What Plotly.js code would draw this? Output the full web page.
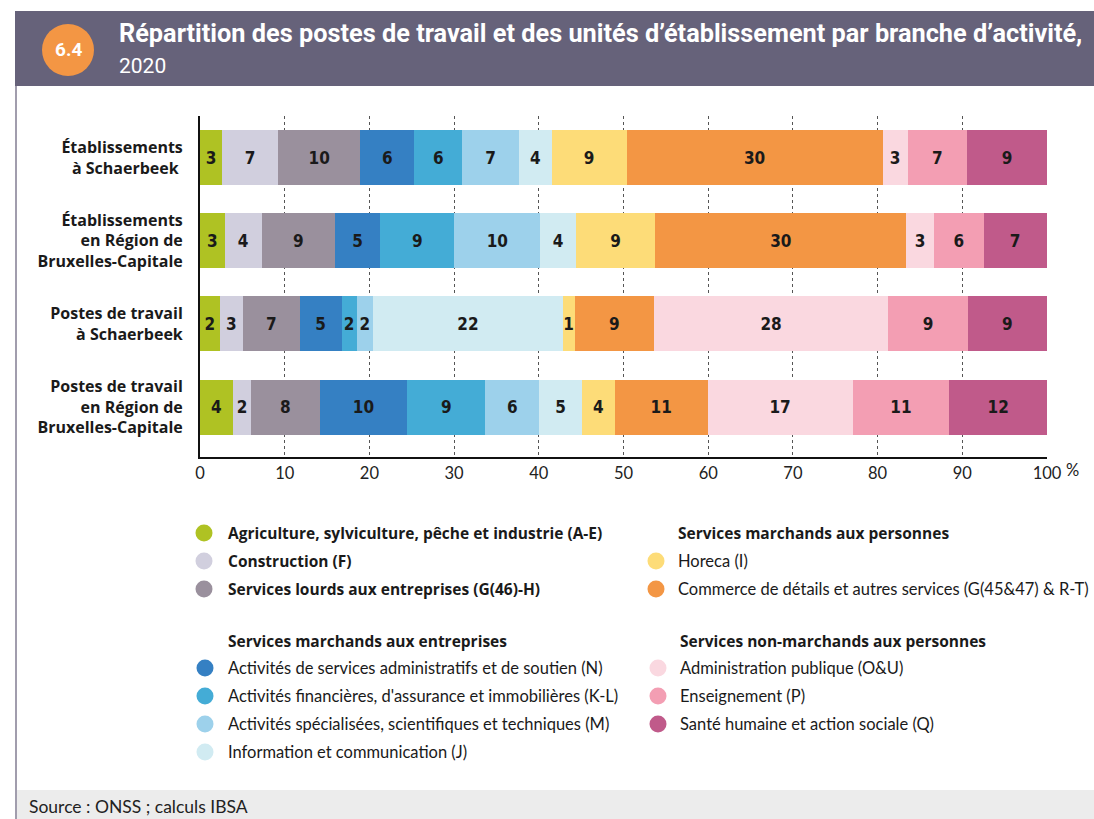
<!DOCTYPE html>
<html>
<head>
<meta charset="utf-8">
<script src="https://cdn.plot.ly/plotly-3.0.1.min.js"></script>
<style>html,body{margin:0;padding:0;background:#fff;}#chart{width:1094px;height:819px;}</style>
</head>
<body>
<div id="chart"></div>
<script>
// ---------- DATA ----------
const categories = [
  "Établissements<br>à Schaerbeek ",
  "Établissements<br>en Région de<br>Bruxelles-Capitale",
  "Postes de travail<br>à Schaerbeek",
  "Postes de travail<br>en Région de<br>Bruxelles-Capitale"
];
const agriculture  = [2.6, 2.9, 2.35, 3.88];
const construction = [6.6, 4.4, 2.72, 2.15];
const servLourds   = [9.74, 8.6, 6.69, 8.09];
const adminSoutien = [6.36, 5.4, 4.95, 10.36];
const financieres  = [5.65, 8.7, 1.77, 9.2];
const specialisees = [6.73, 10.2, 1.98, 6.36];
const information  = [3.82, 4.14, 22.36, 5.05];
const horeca       = [8.88, 9.43, 1.42, 3.88];
const commerce     = [30.2, 29.6, 9.33, 10.96];
const adminPub     = [2.96, 3.3, 27.7, 17.12];
const enseignement = [7.04, 5.85, 9.4, 11.42];
const sante        = [9.4, 7.45, 9.3, 11.52];

const seriesNames = [
  "Agriculture, sylviculture, pêche et industrie (A-E)",
  "Construction (F)",
  "Services lourds aux entreprises (G(46)-H)",
  "Activités de services administratifs et de soutien (N)",
  "Activités financières, d'assurance et immobilières (K-L)",
  "Activités spécialisées, scientifiques et techniques (M)",
  "Information et communication (J)",
  "Horeca (I)",
  "Commerce de détails et autres services (G(45&47) & R-T)",
  "Administration publique (O&U)",
  "Enseignement (P)",
  "Santé humaine et action sociale (Q)"
];
const seriesValues = [agriculture, construction, servLourds, adminSoutien, financieres,
  specialisees, information, horeca, commerce, adminPub, enseignement, sante];
const seriesColors = ["#afc223", "#d1cfde", "#9a909d", "#3580c3", "#44acd6", "#9dd1eb",
  "#d1ebf2", "#fddc78", "#f39644", "#fad8e0", "#f39eb3", "#c05a8a"];
const groupTitles = ["Services marchands aux entreprises", "Services marchands aux personnes",
  "Services non-marchands aux personnes"];
const xTickVals = [0, 10, 20, 30, 40, 50, 60, 70, 80, 90, 100];
const xTickText = ["0", "10", "20", "30", "40", "50", "60", "70", "80", "90", "100"];

// ---------- GEOMETRY HELPERS ----------
const W = 1094, H = 819;
const M = {l: 200, r: 47, t: 116, b: 362};
const PW = W - M.l - M.r, PH = H - M.t - M.b;
const px = x => (x - M.l) / PW;
const py = y => 1 - (y - M.t) / PH;

const labelFont = "'Liberation Sans Narrow', 'DejaVu Sans Condensed', 'Roboto Condensed', Roboto, sans-serif";
const textFont = "Lato, 'Noto Sans', sans-serif";
const boldFont = "'Open Sans', 'Noto Sans', sans-serif";

const traces = seriesValues.map((vals, i) => ({
  type: "bar",
  orientation: "h",
  x: vals,
  y: categories,
  name: seriesNames[i],
  marker: {color: seriesColors[i], line: {width: 0}},
  texttemplate: "%{x:.0f}",
  textposition: "inside",
  insidetextanchor: "middle",
  textangle: 0,
  textfont: {family: labelFont, size: 17, color: "#1a1a1a", weight: "bold"},
  cliponaxis: false,
  showlegend: false,
  hoverinfo: "skip"
}));

const shapes = [];
const annotations = [];

// header band
shapes.push({type: "rect", xref: "paper", yref: "paper", x0: px(15), x1: px(1094), y0: py(86), y1: py(11),
  fillcolor: "#66627a", line: {width: 0}, layer: "above"});
shapes.push({type: "circle", xref: "paper", yref: "paper", x0: px(42), x1: px(94), y0: py(76), y1: py(24),
  fillcolor: "#f39644", line: {width: 0}, layer: "above"});
annotations.push({xref: "paper", yref: "paper", x: px(68), y: py(50), text: "<b>6.4</b>", showarrow: false,
  xanchor: "center", yanchor: "middle", font: {family: "Roboto, sans-serif", size: 19, color: "#fff"}});
annotations.push({xref: "paper", yref: "paper", x: px(117), y: py(33),
  text: "<b>Répartition des postes de travail et des unités d’établissement par branche d’activité,</b>",
  showarrow: false, xanchor: "left", yanchor: "middle",
  font: {family: "Roboto, sans-serif", size: 25.3, color: "#fff"}});
annotations.push({xref: "paper", yref: "paper", x: px(117), y: py(66), text: "2020", showarrow: false,
  xanchor: "left", yanchor: "middle", font: {family: "Roboto, sans-serif", size: 21, color: "#fff"}});

// left frame line
shapes.push({type: "line", xref: "paper", yref: "paper", x0: px(16), x1: px(16), y0: py(86), y1: py(819),
  line: {color: "#a19dad", width: 2}, layer: "above"});
// footer band
shapes.push({type: "rect", xref: "paper", yref: "paper", x0: px(17), x1: px(1094), y0: py(819), y1: py(790),
  fillcolor: "#ececec", line: {width: 0}, layer: "below"});
annotations.push({xref: "paper", yref: "paper", x: px(27), y: py(806), text: "Source : ONSS ; calculs IBSA",
  showarrow: false, xanchor: "left", yanchor: "middle", font: {family: textFont, size: 17.5, color: "#222"}});

// % after last tick
annotations.push({xref: "x", yref: "paper", x: 100, y: py(470), xshift: 17, text: "%", showarrow: false,
  xanchor: "left", yanchor: "middle", font: {family: textFont, size: 16.5, color: "#222"}});

// ---------- LEGEND (custom) ----------
function legendItem(i, cx, tx, y, bold) {
  shapes.push({type: "circle", xref: "paper", yref: "paper", x0: px(cx - 8.5), x1: px(cx + 8.5),
    y0: py(y + 8.5), y1: py(y - 8.5), fillcolor: seriesColors[i], line: {width: 0}});
  annotations.push({xref: "paper", yref: "paper", x: px(tx), y: py(y),
    text: bold ? "<b>" + seriesNames[i] + "</b>" : seriesNames[i],
    showarrow: false, xanchor: "left", yanchor: "middle",
    font: bold ? {family: boldFont, size: 15.5, color: "#1a1a1a"}
               : {family: textFont, size: 16.5, color: "#1a1a1a"}});
}
function legendTitle(t, tx, y) {
  annotations.push({xref: "paper", yref: "paper", x: px(tx), y: py(y), text: "<b>" + t + "</b>",
    showarrow: false, xanchor: "left", yanchor: "middle",
    font: {family: boldFont, size: 15.5, color: "#1a1a1a"}});
}
const rowH = 28;
// column 1
[0, 1, 2].forEach((i, k) => legendItem(i, 204, 226, 533 + k * rowH, true));
legendTitle(groupTitles[0], 226, 641);
[3, 4, 5, 6].forEach((i, k) => legendItem(i, 205, 226, 668 + k * rowH, false));
// column 2
legendTitle(groupTitles[1], 676, 533);
[7, 8].forEach((i, k) => legendItem(i, 656, 676, 561 + k * rowH, false));
legendTitle(groupTitles[2], 678, 641);
[9, 10, 11].forEach((i, k) => legendItem(i, 658, 678, 668 + k * rowH, false));

const layout = {
  width: W, height: H,
  margin: M,
  barmode: "stack",
  bargap: 0.34,
  paper_bgcolor: "#fff",
  plot_bgcolor: "#fff",
  showlegend: false,
  uniformtext: {mode: "show", minsize: 17},
  font: {family: textFont, color: "#1a1a1a"},
  xaxis: {
    range: [0, 100], autorange: false,
    tickmode: "array", tickvals: xTickVals, ticktext: xTickText,
    showgrid: true, gridcolor: "#555", griddash: "dot", gridwidth: 1,
    zeroline: false, showline: true, linecolor: "#111", linewidth: 2,
    ticks: "", tickfont: {family: textFont, size: 16.5, color: "#222"},
    fixedrange: true
  },
  yaxis: {
    type: "category",
    range: [3.6, -0.5], autorange: false,
    showgrid: false, zeroline: false, showline: true, linecolor: "#111", linewidth: 2,
    ticks: "", ticklabelstandoff: 12,
    tickfont: {family: boldFont, size: 16, color: "#1a1a1a", weight: "bold"},
    fixedrange: true
  },
  shapes: shapes,
  annotations: annotations
};

Plotly.newPlot("chart", traces, layout, {displayModeBar: false, staticPlot: true});
</script>
</body>
</html>
